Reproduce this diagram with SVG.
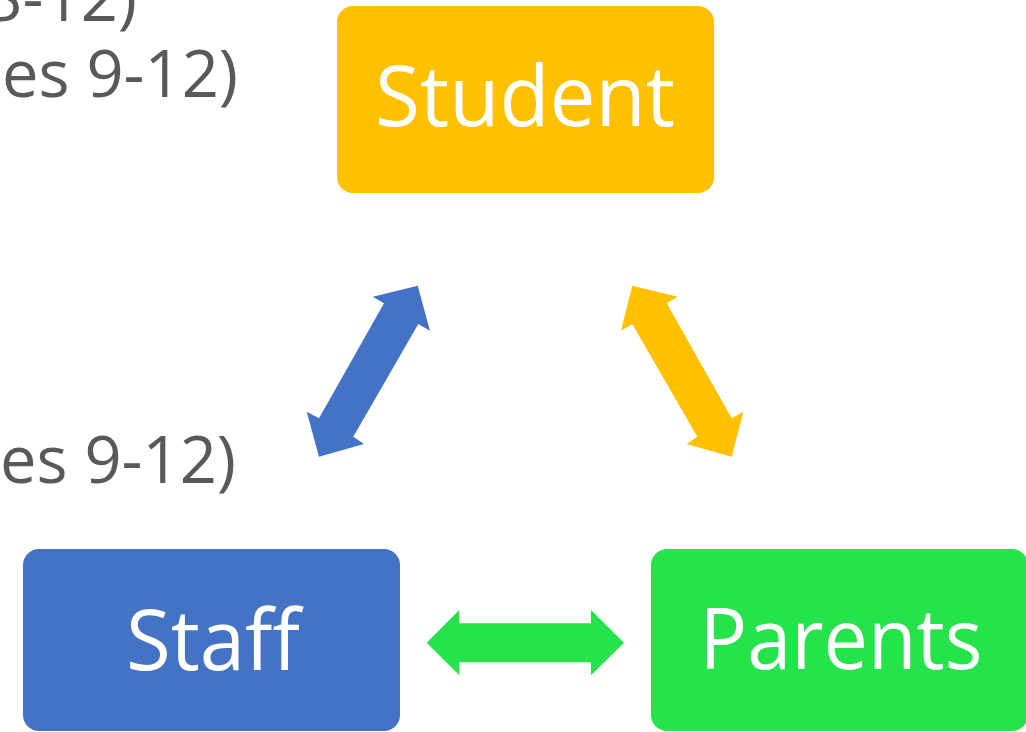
<svg xmlns="http://www.w3.org/2000/svg" width="1026" height="732" viewBox="0 0 1026 732">
<style>
.lbl{font-family:"Open Sans","Liberation Sans",sans-serif;fill:#ffffff;text-anchor:middle}
.side{font-family:"Open Sans","Liberation Sans",sans-serif;fill:#595959;font-size:65px;text-anchor:end}
</style>
<rect width="1026" height="732" fill="#ffffff"/>
<g id="side-text">
<text class="side" x="137" y="21">3-12)</text>
<text class="side" x="238" y="97">es 9-12)</text>
<text class="side" x="236" y="483">es 9-12)</text>
</g>
<g id="connectors">
<polygon fill="#4472C4" points="372.7,296.7 417.7,285.7 430,330.7 418.3,324 353.3,436.7 364,444 319,456.7 306.7,411.7 319,418.3 384,303.3"/>
<polygon fill="#FFC000" points="632.3,285.7 677.7,296.7 666.7,303.3 731.7,418.3 743.3,411.7 731.7,456.7 686.7,444 697.3,436.7 632.3,324 621,330.7"/>
<polygon fill="#24E34B" points="426.7,642.7 459.3,610 459.3,623.3 591,623.3 591,610 624,642.7 591,675.3 591,662.3 459.3,662.3 459.3,675.3"/>
</g>
<g id="student">
<rect x="337" y="6" width="377" height="187" rx="16" fill="#FFC000"/>
<text class="lbl" x="525" y="126" font-size="85" textLength="300" lengthAdjust="spacingAndGlyphs">Student</text>
</g>
<g id="staff">
<rect x="23" y="549" width="377" height="182" rx="16" fill="#4472C4"/>
<text class="lbl" x="213" y="670" font-size="85" textLength="174" lengthAdjust="spacingAndGlyphs">Staff</text>
</g>
<g id="parents">
<rect x="651" y="549" width="377" height="182" rx="16" fill="#24E34B"/>
<text class="lbl" x="841" y="669" font-size="85" textLength="283" lengthAdjust="spacingAndGlyphs">Parents</text>
</g>
</svg>
